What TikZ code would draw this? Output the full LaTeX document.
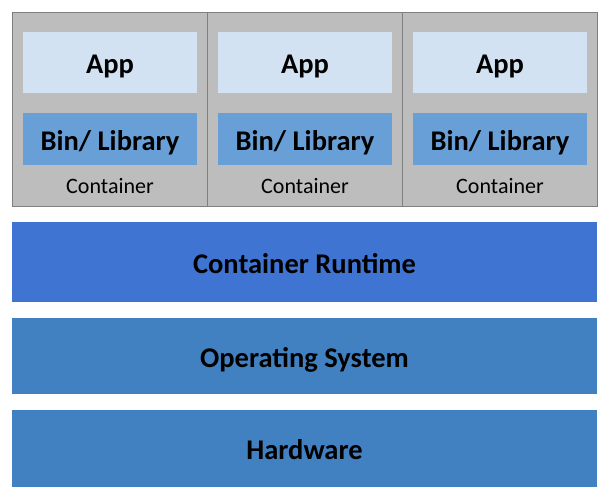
\documentclass[tikz,border=0pt]{standalone}
\usepackage{fontspec}
\setmainfont{Carlito}
\definecolor{contgray}{HTML}{BDBDBD}
\definecolor{contedge}{HTML}{7F7F7F}
\definecolor{appblue}{HTML}{D2E2F2}
\definecolor{binblue}{HTML}{689FD7}
\definecolor{rtblue}{HTML}{3F74D2}
\definecolor{osblue}{HTML}{4181C2}
\tikzset{
  bigtext/.style={font=\fontsize{28.5}{32}\selectfont\bfseries, text height=22.4pt, text depth=0pt},
  contbox/.style={draw=contedge, line width=0.8pt, fill=contgray, minimum width=195pt, minimum height=194pt, inner sep=0pt},
  appbox/.style={bigtext, fill=appblue, minimum width=174pt, minimum height=61pt, inner sep=0pt},
  binbox/.style={bigtext, fill=binblue, minimum width=174pt, minimum height=52pt, inner sep=0pt},
  contlabel/.style={inner sep=0pt, anchor=base, font=\fontsize{22}{26}\selectfont},
  layerbox/.style={bigtext, minimum width=585pt, inner sep=0pt}
}
\begin{document}
\begin{tikzpicture}[x=1pt,y=-1pt]
\useasboundingbox (0,0) rectangle (612,496);
\fill[white] (0,0) rectangle (612,496);
\foreach \i/\cx in {1/109.5,2/304.5,3/499.5}{
  \node[contbox] (c\i) at (\cx,109) {};
  \node[appbox] (app\i) at (\cx+0.5,62.5) {App};
  \node[binbox] (bin\i) at (\cx+0.5,139) {Bin/ Library};
  \node[contlabel] (lab\i) at (\cx+0.5,193) {Container};
}
\node[layerbox, fill=rtblue, minimum height=80pt] (rt) at (304.5,262) {Container Runtime};
\node[layerbox, fill=osblue, minimum height=76pt] (os) at (304.5,356) {Operating System};
\node[layerbox, fill=osblue, minimum height=77pt] (hw) at (304.5,448.5) {Hardware};
\end{tikzpicture}
\end{document}
